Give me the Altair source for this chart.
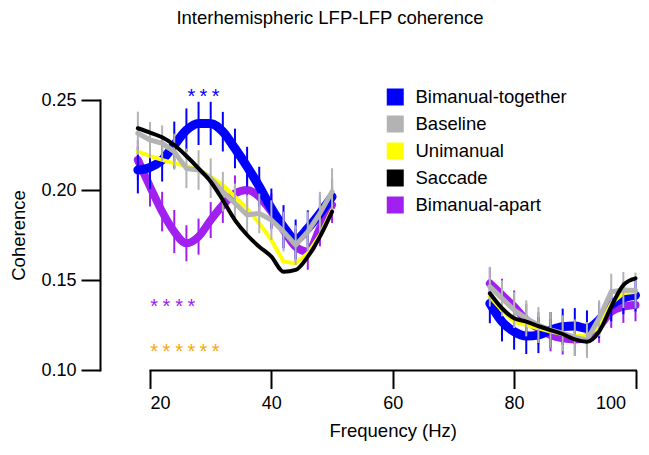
import altair as alt
import pandas as pd

# ---- data ----
freq_low = [18, 20, 22, 24, 26, 28, 30, 32, 34, 36, 38, 40, 42, 44, 46, 48, 50]
freq_high = [76, 78, 80, 82, 84, 86, 88, 90, 92, 94, 96, 98, 100]

series_names = ["Bimanual-together", "Baseline", "Unimanual", "Saccade", "Bimanual-apart"]
series_colors = ["#0000FF", "#B3B3B3", "#FFFF00", "#000000", "#A020F0"]

blue_low = [0.2111, 0.2126, 0.2167, 0.2250, 0.2333, 0.2370, 0.2370, 0.2324, 0.2231,
            0.2130, 0.2019, 0.1898, 0.1796, 0.1726, 0.1787, 0.1870, 0.1963]
blue_high = [0.1370, 0.1269, 0.1213, 0.1189, 0.1194, 0.1222, 0.1241, 0.1244, 0.1231,
             0.1278, 0.1361, 0.1400, 0.1415]
blue_err_low = [0.013, 0.012, 0.012, 0.013, 0.012, 0.012, 0.012, 0.011, 0.011,
                0.011, 0.011, 0.011, 0.012, 0.011, 0.010, 0.010, 0.010]
blue_err_high = [0.011, 0.011, 0.010, 0.010, 0.010, 0.010, 0.010, 0.010, 0.010,
                 0.010, 0.009, 0.009, 0.009]

grey_low = [0.2315, 0.2278, 0.2259, 0.2213, 0.2120, 0.2111, 0.2065, 0.1991, 0.1926,
            0.1861, 0.1870, 0.1833, 0.1769, 0.1694, 0.1769, 0.1870, 0.1991]
grey_high = [0.1463, 0.1398, 0.1333, 0.1287, 0.1250, 0.1222, 0.1204, 0.1181, 0.1167,
             0.1287, 0.1435, 0.1444, 0.1441]
grey_err_low = [0.012, 0.010, 0.010, 0.010, 0.011, 0.011, 0.011, 0.011, 0.011,
                0.011, 0.011, 0.011, 0.011, 0.011, 0.011, 0.012, 0.013]
grey_err_high = [0.011, 0.010, 0.010, 0.010, 0.010, 0.010, 0.010, 0.010, 0.010,
                 0.010, 0.010, 0.010, 0.010]

yellow_low = [0.2213, 0.2189, 0.2167, 0.2148, 0.2133, 0.2111, 0.2074, 0.2028, 0.1963,
              0.1898, 0.1815, 0.1722, 0.1602, 0.1593, 0.1648, 0.1750, 0.1889]
yellow_high = [0.1407, 0.1333, 0.1269, 0.1250, 0.1231, 0.1213, 0.1200, 0.1189, 0.1189,
               0.1241, 0.1370, 0.1426, 0.1435]

black_low = [0.2343, 0.2319, 0.2293, 0.2250, 0.2189, 0.2120, 0.2046, 0.1944, 0.1833,
             0.1750, 0.1685, 0.1630, 0.1546, 0.1556, 0.1630, 0.1741, 0.1880]
black_high = [0.1426, 0.1343, 0.1287, 0.1269, 0.1244, 0.1222, 0.1200, 0.1170, 0.1157,
              0.1213, 0.1352, 0.1472, 0.1509]

purple_low = [0.2167, 0.2019, 0.1880, 0.1769, 0.1704, 0.1741, 0.1833, 0.1917, 0.1981,
              0.2000, 0.1963, 0.1880, 0.1778, 0.1685, 0.1657, 0.1787, 0.1917]
purple_high = [0.1481, 0.1417, 0.1352, 0.1278, 0.1231, 0.1194, 0.1176, 0.1170, 0.1181,
               0.1241, 0.1324, 0.1352, 0.1361]
purple_err_low = [0.011, 0.011, 0.011, 0.012, 0.010, 0.010, 0.010, 0.010, 0.010,
                  0.010, 0.010, 0.010, 0.010, 0.010, 0.010, 0.010, 0.010]
purple_err_high = [0.009, 0.009, 0.009, 0.009, 0.009, 0.009, 0.009, 0.009, 0.009,
                   0.009, 0.009, 0.009, 0.009]

# significance asterisks
stars_blue_f = [26.8, 28.8, 30.8]
stars_blue_v = 0.2547
stars_purple_f = [20.7, 22.7, 24.8, 26.8]
stars_purple_v = 0.138
stars_orange_f = [20.7, 22.7, 24.8, 26.8, 28.8, 30.8]
stars_orange_v = 0.113

x_ticks = [20, 40, 60, 80, 100]
y_ticks = [0.10, 0.15, 0.20, 0.25]
chart_title = "Interhemispheric LFP-LFP coherence"

# ---- tables ----
series_data = {
    "Bimanual-together": (blue_low, blue_high, blue_err_low, blue_err_high),
    "Baseline": (grey_low, grey_high, grey_err_low, grey_err_high),
    "Unimanual": (yellow_low, yellow_high, None, None),
    "Saccade": (black_low, black_high, None, None),
    "Bimanual-apart": (purple_low, purple_high, purple_err_low, purple_err_high),
}
line_widths = {"Bimanual-together": 9, "Baseline": 5, "Unimanual": 4,
               "Saccade": 4, "Bimanual-apart": 8}
line_interp = {"Bimanual-together": "monotone", "Baseline": "linear",
               "Unimanual": "linear", "Saccade": "monotone", "Bimanual-apart": "monotone"}
draw_order = ["Bimanual-apart", "Bimanual-together", "Unimanual", "Baseline", "Saccade"]

rows = []
for name, (lo, hi, elo, ehi) in series_data.items():
    for seg, fr, vals, errs in (("low", freq_low, lo, elo), ("high", freq_high, hi, ehi)):
        for i, (f, v) in enumerate(zip(fr, vals)):
            e = errs[i] if errs is not None else None
            rows.append({"freq": f, "value": v, "series": name, "seg": seg,
                         "lo": (v - e) if e is not None else None,
                         "hi": (v + e) if e is not None else None})
df = pd.DataFrame(rows)
legend_df = pd.DataFrame({"series": series_names,
                          "freq": [freq_low[0]] * 5,
                          "value": [series_data[n][0][0] for n in series_names]})

FONT = "Liberation Sans"
FS = 18.5

x_scale = alt.Scale(domain=[20, 100], nice=False, zero=False)
y_scale = alt.Scale(domain=[0.10, 0.25], nice=False, zero=False)
x_axis = alt.Axis(values=x_ticks, title="Frequency (Hz)", tickSize=18.5,
                  labelPadding=6, titlePadding=9, format="d", labelFontSize=18,
                  labelOffset={"condition": {"test": "datum.value === 100", "value": -10},
                               "value": 0})
y_axis = alt.Axis(values=y_ticks, title="Coherence", tickSize=19, offset=50,
                  labelPadding=5, titlePadding=12, format=".2f", labelFontSize=18)
X = alt.X("freq:Q", scale=x_scale, axis=x_axis)
Y = alt.Y("value:Q", scale=y_scale, axis=y_axis)
color_nolegend = alt.Color("series:N",
                           scale=alt.Scale(domain=series_names, range=series_colors),
                           legend=None)

base = alt.Chart(df)
layers = []
for name in draw_order:
    sub = base.transform_filter(alt.datum.series == name)
    if series_data[name][2] is not None:
        layers.append(
            sub.mark_rule(strokeWidth=2).encode(
                x=X, y=alt.Y("lo:Q", scale=y_scale, axis=y_axis), y2="hi:Q",
                color=color_nolegend,
            )
        )
    layers.append(
        sub.mark_line(strokeWidth=line_widths[name], strokeCap="round",
                      strokeJoin="round", interpolate=line_interp[name]).encode(
            x=X, y=Y, color=color_nolegend, detail="seg:N",
        )
    )

def star_layer(freqs, v, col):
    d = pd.DataFrame({"freq": freqs, "value": [v] * len(freqs), "t": ["*"] * len(freqs)})
    return alt.Chart(d).mark_text(color=col, fontSize=20, font=FONT, baseline="middle",
                                  dy=5).encode(x=X, y=Y, text="t:N")

layers.append(star_layer(stars_blue_f, stars_blue_v, "#0000FF"))
layers.append(star_layer(stars_purple_f, stars_purple_v, "#A020F0"))
layers.append(star_layer(stars_orange_f, stars_orange_v, "#FFA500"))

# invisible squares that carry the legend (filled square symbols)
legend = alt.Legend(title=None, orient="none", legendX=236, legendY=-12.25,
                    symbolType="square", symbolSize=289, symbolStrokeWidth=0,
                    symbolOpacity=1, labelFont=FONT, labelFontSize=FS,
                    labelColor="black", labelOffset=11, rowPadding=8,
                    padding=0, labelLimit=300)
legend_layer = alt.Chart(legend_df).mark_square(size=1, opacity=0).encode(
    x=X, y=Y,
    color=alt.Color("series:N", scale=alt.Scale(domain=series_names, range=series_colors),
                    legend=legend),
)
layers.append(legend_layer)

# chart title as text
title_df = pd.DataFrame({"t": [chart_title]})
title_layer = alt.Chart(title_df).mark_text(
    font=FONT, fontSize=FS, color="black", align="center", baseline="alphabetic"
).encode(x=alt.value(180), y=alt.value(-76), text="t:N")
layers.append(title_layer)

chart = alt.layer(*layers).resolve_scale(color="independent").properties(
    width=485.5,
    height=270,
    padding={"left": 142, "top": 92, "right": 5.5, "bottom": 73},
    autosize=alt.AutoSizeParams(type="none"),
).configure_view(stroke=None).configure_axis(
    grid=False, domainColor="black", domainWidth=2, tickColor="black", tickWidth=2,
    labelFont=FONT, labelColor="black",
    titleFont=FONT, titleFontSize=FS, titleFontWeight="normal", titleColor="black",
    domainCap="square",
)

chart.save("out.html", embed_options={"renderer": "svg", "actions": False})
